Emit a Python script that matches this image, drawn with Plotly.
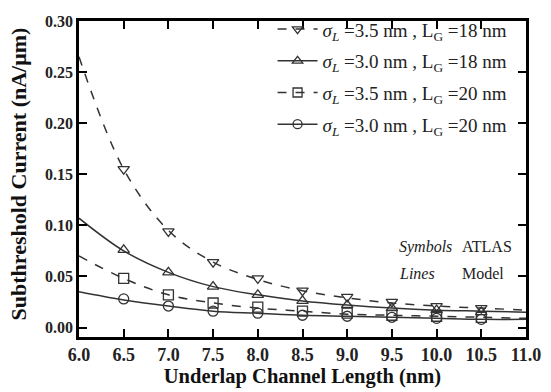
import plotly.graph_objects as go

# Model (lines) x positions and values
x_model = [6.0, 6.5, 7.0, 7.5, 8.0, 8.5, 9.0, 9.5, 10.0, 10.5, 11.0]
model_s35_l18 = [0.265, 0.155, 0.095, 0.064, 0.047, 0.036, 0.029, 0.024, 0.021, 0.019, 0.017]
model_s30_l18 = [0.107, 0.075, 0.054, 0.040, 0.032, 0.026, 0.022, 0.019, 0.017, 0.016, 0.015]
model_s35_l20 = [0.070, 0.048, 0.032, 0.024, 0.019, 0.016, 0.013, 0.012, 0.011, 0.010, 0.009]
model_s30_l20 = [0.035, 0.027, 0.021, 0.016, 0.014, 0.012, 0.011, 0.010, 0.009, 0.008, 0.008]

# ATLAS (symbols) x positions and values
x_atlas = [6.5, 7.0, 7.5, 8.0, 8.5, 9.0, 9.5, 10.0, 10.5]
atlas_s35_l18 = [0.155, 0.094, 0.064, 0.048, 0.036, 0.030, 0.025, 0.021, 0.019]
atlas_s30_l18 = [0.076, 0.054, 0.040, 0.032, 0.026, 0.022, 0.019, 0.017, 0.015]
atlas_s35_l20 = [0.048, 0.032, 0.024, 0.020, 0.016, 0.014, 0.012, 0.011, 0.010]
atlas_s30_l20 = [0.028, 0.021, 0.016, 0.014, 0.012, 0.011, 0.010, 0.009, 0.008]

labels = [
    "<i>σ<sub>L</sub></i> =3.5 nm , L<sub>G</sub> =18 nm",
    "<i>σ<sub>L</sub></i> =3.0 nm , L<sub>G</sub> =18 nm",
    "<i>σ<sub>L</sub></i> =3.5 nm , L<sub>G</sub> =20 nm",
    "<i>σ<sub>L</sub></i> =3.0 nm , L<sub>G</sub> =20 nm",
]
symbols = ["triangle-down-open", "triangle-up-open", "square-open", "circle-open"]
dashes = ["dash", "solid", "dash", "solid"]
models = [model_s35_l18, model_s30_l18, model_s35_l20, model_s30_l20]
atlas = [atlas_s35_l18, atlas_s30_l18, atlas_s35_l20, atlas_s30_l20]

col = "#333333"
fig = go.Figure()
for i in range(4):
    fig.add_trace(go.Scatter(x=x_model, y=models[i], mode="lines",
                             line=dict(color=col, width=1.5, dash=dashes[i], shape="spline"),
                             showlegend=False, hoverinfo="skip"))
    fig.add_trace(go.Scatter(x=x_atlas, y=atlas[i], mode="markers",
                             marker=dict(symbol=symbols[i], size=10, color=col,
                                         line=dict(width=1.3, color=col)),
                             showlegend=False))
    fig.add_trace(go.Scatter(x=[None], y=[None], mode="lines+markers", name=labels[i],
                             line=dict(color=col, width=1.5, dash=dashes[i]),
                             marker=dict(symbol=symbols[i], size=9, color=col,
                                         line=dict(width=1.3, color=col)),
                             legendgroup=str(i)))

serif = "Liberation Serif"
ann_font = dict(family=serif, size=16, color="#222")
fig.add_annotation(x=9.56, y=0.079, xref="x", yref="y", text="<i>Symbols</i>", showarrow=False,
                   xanchor="left", font=ann_font)
fig.add_annotation(x=10.26, y=0.079, xref="x", yref="y", text="ATLAS", showarrow=False,
                   xanchor="left", font=ann_font)
fig.add_annotation(x=9.56, y=0.053, xref="x", yref="y", text="<i>Lines</i>", showarrow=False,
                   xanchor="left", font=ann_font)
fig.add_annotation(x=10.26, y=0.053, xref="x", yref="y", text="Model", showarrow=False,
                   xanchor="left", font=ann_font)
# y-axis title
fig.add_annotation(x=-0.136, y=0.515, xref="paper", yref="paper",
                   text="Subthreshold Current (nA/μm)", showarrow=False, textangle=-90,
                   xanchor="center", yanchor="middle",
                   font=dict(family=serif, size=22, color="#111", weight="bold"))

axis_common = dict(showline=True, linecolor="black", linewidth=2.5, mirror="allticks",
                   ticks="inside", ticklen=8, tickwidth=1.5, tickcolor="black",
                   showgrid=False, zeroline=False)
fig.update_xaxes(range=[6.0, 11.0], tickvals=[6.0, 6.5, 7.0, 7.5, 8.0, 8.5, 9.0, 9.5, 10.0, 10.5, 11.0],
                 tickformat=".1f",
                 tickfont=dict(family=serif, size=18, color="#222", weight="bold"),
                 title=dict(text="Underlap Channel Length (nm)", standoff=2,
                            font=dict(family=serif, size=20.5, color="#111", weight="bold")),
                 **axis_common)
fig.update_yaxes(range=[-0.0093, 0.30], tickvals=[0.0, 0.05, 0.10, 0.15, 0.20, 0.25, 0.30],
                 tickformat=".2f",
                 tickfont=dict(family=serif, size=16, color="#222", weight="bold"),
                 **axis_common)
fig.update_layout(
    width=551, height=392,
    margin=dict(l=79, r=22, t=10, b=52),
    paper_bgcolor="white", plot_bgcolor="white",
    font=dict(family=serif, color="#222"),
    legend=dict(x=0.433, y=1.034, xanchor="left", yanchor="top", bgcolor="rgba(0,0,0,0)",
                font=dict(family=serif, size=19, color="#222"), tracegroupgap=4,
                itemwidth=40),
)
fig.write_html("out.html")
